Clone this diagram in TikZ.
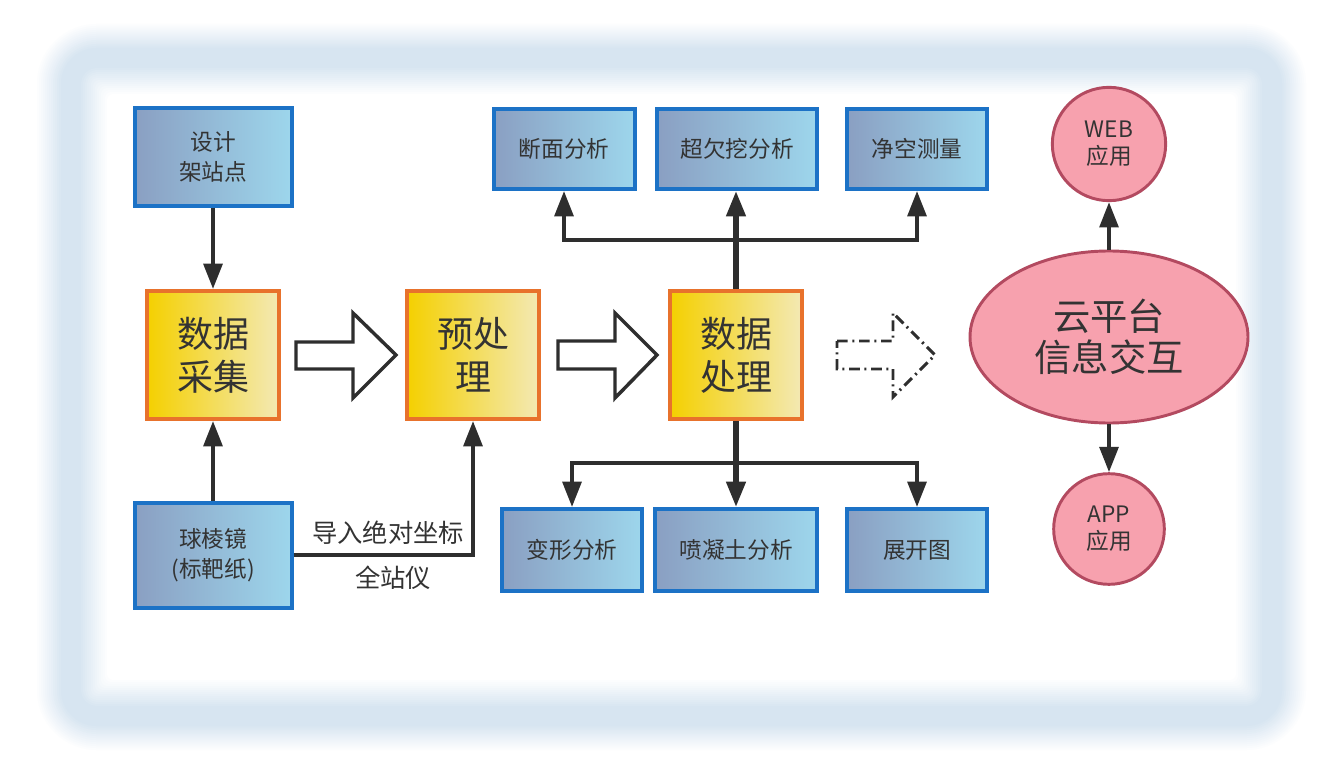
\documentclass[tikz,border=0pt]{standalone}
\usepackage{fontspec}
\setmainfont{Noto Sans CJK SC}
\usetikzlibrary{arrows.meta,calc,shapes.geometric}
\definecolor{txt}{HTML}{333333}
\definecolor{bluel}{HTML}{8A9FC2}
\definecolor{bluer}{HTML}{9DD6EC}
\definecolor{blueb}{HTML}{1C72C6}
\definecolor{yell}{HTML}{F4D000}
\definecolor{yelr}{HTML}{F3E9B4}
\definecolor{yelb}{HTML}{E8722C}
\definecolor{pinkf}{HTML}{F7A1AE}
\definecolor{pinkb}{HTML}{B34A60}
\definecolor{glow}{HTML}{D7E5F1}
\definecolor{linec}{HTML}{2E2E2E}
\begin{document}
\begin{tikzpicture}[x=0.75pt,y=-0.75pt,
  bluebox/.style={draw=blueb, line width=3pt, left color=bluel, right color=bluer,
    text=txt, font=\fontsize{17}{22}\selectfont, align=center, inner sep=0pt},
  yelbox/.style={draw=yelb, line width=3pt, left color=yell, right color=yelr,
    text=txt, font=\fontsize{27}{32}\selectfont, align=center, inner sep=0pt,
    minimum width=99pt, minimum height=96pt},
  pinknode/.style={draw=pinkb, line width=2.2pt, fill=pinkf, text=txt, align=center, inner sep=0pt},
  conn/.style={draw=linec, line width=3pt, -{Triangle[length=19pt,width=14pt]}},
  hollow/.style={draw=linec, line width=2.6pt, fill=white, line join=miter},
  lbl/.style={text=txt, font=\fontsize{19}{23}\selectfont, inner sep=0pt}
]
\useasboundingbox (0,0) rectangle (1338,770);
\fill[white] (0,0) rectangle (1338,770);
% glow frame
\foreach \d in {0,2,...,80} {
  \pgfmathtruncatemacro\p{\d<26 ? \d/26*100 : (\d<44 ? 100 : max(0,(72-\d)/28*100))}
  \pgfmathsetmacro\r{max(6,62-\d)*0.75}
  \fill[glow!\p!white, rounded corners=\r pt] (35+\d,22+\d) rectangle (1308-\d,752-\d);
}

% nodes
\node[bluebox, minimum width=117.75pt, minimum height=72.75pt] (design) at (213,157) {设计\\架站点};
\node[yelbox] (collect) at (213,355) {数据\\采集};
\node[bluebox, minimum width=117.75pt, minimum height=78.75pt] (prism) at (213,555) {球棱镜\\(标靶纸)};
\node[yelbox] (pre) at (473,355) {预处\\理};
\node[yelbox] (proc) at (736,355) {数据\\处理};

\node[bluebox, minimum width=105.75pt, minimum height=60pt] (a1) at (564,149) {断面分析};
\node[bluebox, minimum width=120pt, minimum height=60pt] (a2) at (737,149) {超欠挖分析};
\node[bluebox, minimum width=105pt, minimum height=60pt] (a3) at (917,149) {净空测量};
\node[bluebox, minimum width=105pt, minimum height=61.5pt] (b1) at (572,550) {变形分析};
\node[bluebox, minimum width=121.5pt, minimum height=61.5pt] (b2) at (736,550) {喷凝土分析};
\node[bluebox, minimum width=105pt, minimum height=61.5pt] (b3) at (917,550) {展开图};

\node[pinknode, circle, minimum size=85pt, font=\fontsize{17}{20}\selectfont] (web) at (1109,144) {WEB\\应用};
\node[pinknode, ellipse, minimum width=208.5pt, minimum height=129pt, font=\fontsize{28}{31}\selectfont] (cloud) at (1109,337) {云平台\\信息交互};
\node[pinknode, circle, minimum size=83pt, font=\fontsize{17}{20}\selectfont] (app) at (1109,529) {APP\\应用};

\node[lbl] (lab1) at (388,533) {导入绝对坐标};
\node[lbl] (lab2) at (393,578) {全站仪};

% connectors
\draw[conn] (design) -- (collect);
\draw[conn] (prism) -- (collect);
\draw[conn] (prism.east) -| (pre.south);

\draw[conn] (proc.north) -- (proc.north |- 0,240) -| (a1.south);
\draw[conn, line width=4pt] (proc.north) -- (proc.north |- a2.south);
\draw[conn] (proc.north) -- (proc.north |- 0,240) -| (a3.south);

\draw[conn] (proc.south) -- (proc.south |- 0,463) -| (b1.north);
\draw[conn, line width=4pt] (proc.south) -- (b2.north);
\draw[conn] (proc.south) -- (proc.south |- 0,463) -| (b3.north);

\draw[conn] (cloud) -- (web);
\draw[conn] (cloud) -- (app);

% hollow arrows
\draw[hollow] (296,342) -- (353,342) -- (353,313) -- (396,355) -- (353,398) -- (353,369) -- (296,369) -- cycle;
\draw[hollow] (558,341) -- (615,341) -- (615,313) -- (657,355) -- (615,398) -- (615,369) -- (558,369) -- cycle;
\draw[hollow, line width=2.2pt, dash pattern=on 8pt off 3.5pt on 1.5pt off 3.5pt] (837,341) -- (893,341) -- (893,313) -- (935,355) -- (893,397) -- (893,369) -- (837,369) -- cycle;
\end{tikzpicture}
\end{document}
